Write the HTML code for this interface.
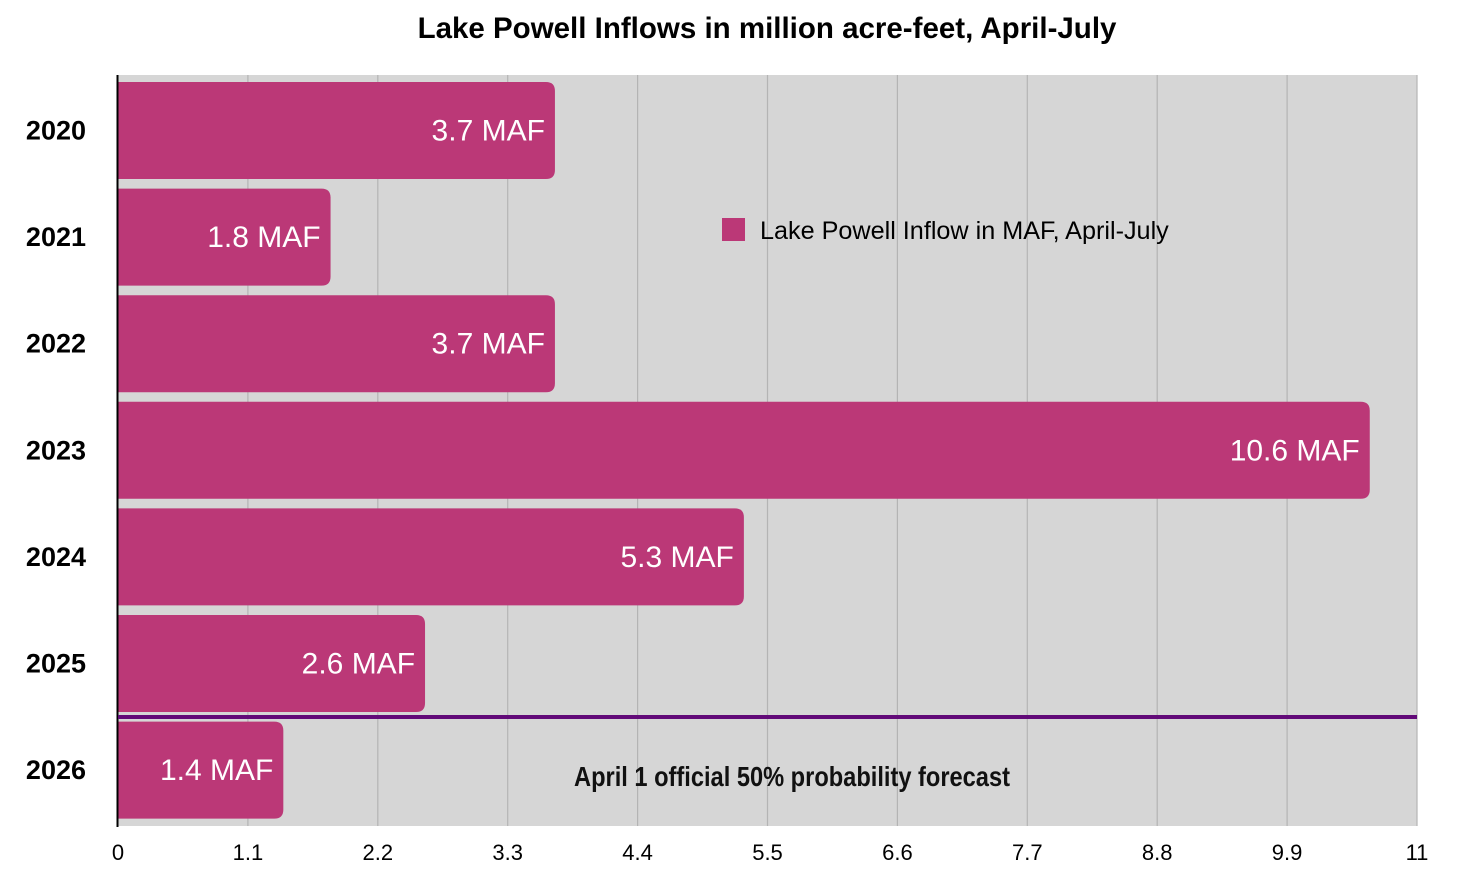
<!DOCTYPE html>
<html><head><meta charset="utf-8"><style>
body{margin:0;background:#fff;}
svg{display:block;font-family:"Liberation Sans",sans-serif;}
</style></head><body>
<svg id="chart" width="1466" height="886">
<text x="767" y="38" text-anchor="middle" font-size="29.5" font-weight="bold" fill="#000">Lake Powell Inflows in million acre-feet, April-July</text>
<rect x="118" y="75" width="1299" height="751" fill="#d6d6d6"/>
<g id="grid"></g>
<g id="bars"></g>
<line x1="117.5" y1="75" x2="117.5" y2="827" stroke="#000" stroke-width="2"/>
<line x1="118" y1="717" x2="1417" y2="717" stroke="#620a78" stroke-width="4"/>
<text x="792" y="786" text-anchor="middle" font-size="27.5" font-weight="bold" fill="#111" transform="translate(792 0) scale(0.86 1) translate(-792 0)">April 1 official 50% probability forecast</text>
<g>
<rect x="722" y="218" width="23" height="23" fill="#bb3877"/>
<text x="760" y="239" font-size="25.2" fill="#000">Lake Powell Inflow in MAF, April-July</text>
</g>
<g id="xticks"></g>
<g id="ylabels"></g>
</svg>
<script>
const categories = ["2020","2021","2022","2023","2024","2025","2026"];
const values = [3.7, 1.8, 3.7, 10.6, 5.3, 2.6, 1.4];
const valueLabels = ["3.7 MAF","1.8 MAF","3.7 MAF","10.6 MAF","5.3 MAF","2.6 MAF","1.4 MAF"];
const ticks = [0,1.1,2.2,3.3,4.4,5.5,6.6,7.7,8.8,9.9,11];
const tickLabels = ["0","1.1","2.2","3.3","4.4","5.5","6.6","7.7","8.8","9.9","11"];

const NS="http://www.w3.org/2000/svg";
const X0=118,X1=1417,Y0=75,Y1=826,XMAX=11;
const x=v=>X0+(v/XMAX)*(X1-X0);
const band=106.6;
const y=i=>Y0+i*band;
function mk(tag,attrs,parent){const e=document.createElementNS(NS,tag);for(const k in attrs)e.setAttribute(k,attrs[k]);parent.appendChild(e);return e;}
const grid=document.getElementById('grid'),bars=document.getElementById('bars'),xt=document.getElementById('xticks'),yl=document.getElementById('ylabels');
ticks.forEach((t,i)=>{
  if(i>0){const l=mk('line',{x1:x(t),y1:Y0,x2:x(t),y2:Y1,stroke:'#b4b4b4','stroke-width':1.2},grid);
  
  }
  const tx=mk('text',{x:x(t),y:860,'text-anchor':'middle','font-size':22,fill:'#000'},xt);
  tx.textContent=tickLabels[i];
  
  
});
categories.forEach((c,i)=>{
  const top=y(i)+7,h=97,w=x(values[i])-X0,r=9;
  const p=mk('path',{d:`M${X0},${top}H${X0+w-r}Q${X0+w},${top} ${X0+w},${top+r}V${top+h-r}Q${X0+w},${top+h} ${X0+w-r},${top+h}H${X0}Z`,fill:'#bb3877'},bars);
  
  
  const vt=mk('text',{x:X0+w-10,y:top+h/2+10,'text-anchor':'end','font-size':30,fill:'#fff'},bars);
  vt.textContent=valueLabels[i];
  
  
  const ct=mk('text',{x:86,y:top+h/2+9,'text-anchor':'end','font-size':27,'font-weight':'bold',fill:'#000'},yl);
  ct.textContent=c;
  
  
});
</script>
</body></html>
